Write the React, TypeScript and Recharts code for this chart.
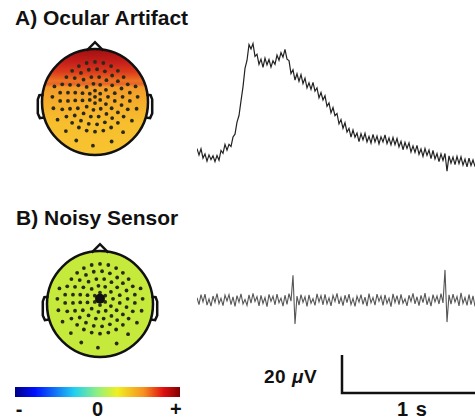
import React from "react";
import {
  LineChart,
  Line,
  ScatterChart,
  Scatter,
  BarChart,
  Bar,
  XAxis,
  YAxis,
} from "recharts";

// ocular artifact trace, microvolts, one sample every ~15 ms
const OCULAR_TRACE = [
  3.4, 0.0, 3.3, -1.6, 0.6, -3.2, 0.1, -2.4, -0.4, -3.5, -0.2, -2.7, 2.4, 0.9, 5.6, 2.6, 5.6, 4.5, 9.5, 11,
  17.3, 20.8, 28.5, 35.9, 45.6, 49.8, 58.1, 55.9, 58.7, 51.9, 53.1, 47.8, 50.5, 46.2, 51, 47.5, 50.3, 46.3, 49.6, 47.8,
  52.6, 49.9, 53.9, 51.5, 55.6, 50.5, 49.7, 42.9, 44.9, 39.5, 42.8, 38.8, 42.3, 37.6, 40.5, 35.3, 38, 34.6, 38.3, 33.6,
  35.4, 30.1, 32.9, 29, 31.2, 25.6, 27.4, 22.2, 25, 20.7, 21.9, 16.4, 18.7, 14.1, 17, 12.1, 14, 9.4, 13.2, 9.4,
  11.6, 7.1, 11.3, 8, 11.4, 6.9, 9.8, 6.3, 10.9, 6.9, 10, 5.9, 9.6, 6.9, 10.6, 6, 9, 5.4, 9.2, 5.5,
  8.7, 4.3, 7.2, 2.8, 6.7, 3.5, 6.4, 1.6, 4.8, 1.4, 5.1, 0.4, 3.2, -0.7, 3.4, -0.2, 2.6, -1.9, 2.4, -2,
  0.8, -3.5, 0.6, -2.8, 0.8, -8.5, -0.4, -4.3, -1.1, -5, -0.7, -4.5, -0.9, -5.3, -2.1, -6.2, -1.6, -5.5, -2.6, -6.1,
];

// noisy sensor trace, microvolts
const NOISY_TRACE = [
  1.2, -2.4, 2.8, -1.0, 3.1, -2.7, 0.6, -3.2, 2.1, -1.3, 3.4, -2.0, 0.9, -2.9, 2.6, -0.5, 2.8, -2.4, 1.6, -3.3,
  2.3, -1.1, 3.2, -2.1, 0.3, -2.8, 2.7, -1.6, 3.5, -0.8, 1.8, -3.1, 2.4, -1.8, 1.3, -3.5, 3.0, -0.7, 2.0, -2.5,
  3.1, -1.4, 1.0, -3.2, 2.5, -2.3, 3.4, -0.6, 13.0, -12.6, 2.1, -2.7, 2.8, -1.3, 1.7, -3.4, 2.7, -1.7, 0.7, -2.8,
  3.2, -1.0, 2.3, -2.5, 3.0, -2.0, 1.1, -3.1, 2.4, -0.8, 3.5, -2.1, 1.4, -2.9, 2.5, -1.4, 3.1, -2.4, 0.8, -3.4,
  2.0, -1.1, 2.8, -2.3, 1.5, -3.2, 3.4, -1.5, 1.3, -2.7, 3.1, -0.7, 2.1, -2.8, 2.7, -1.8, 1.0, -3.5, 3.2, -1.3,
  2.3, -2.4, 3.0, -1.7, 0.6, -3.1, 2.5, -0.8, 3.5, -2.0, 1.7, -2.9, 2.4, -1.4, 3.6, -2.5, 1.1, -3.2, 2.8, -1.0,
  2.1, -2.1, 3.4, -1.5, 15.8, -11.6, 2.7, -2.2, 3.1, -1.1, 1.8, -3.1, 3.8, -1.8, 1.3, -2.8, 2.9, -2.4, 2.2, -3.4,
];

// sensor positions on the head (head radius ~1, nose up)
const ELECTRODES: [number, number][] = [
  [0, 0.1],
  [0, 0.22], [-0.1, 0.16], [-0.1, 0.04], [0, -0.02], [0.1, 0.04], [0.1, 0.16],
  [0.25, 0.1], [0.21, 0.235], [0.1, 0.33], [-0.03, 0.35], [-0.16, 0.29], [-0.24, 0.17],
  [-0.24, 0.03], [-0.16, -0.09], [-0.03, -0.15], [0.11, -0.13], [0.21, -0.04],
  [0.38, 0.17], [0.33, 0.32], [0.22, 0.42], [0.08, 0.48], [-0.07, 0.48], [-0.22, 0.43],
  [-0.32, 0.32], [-0.38, 0.18], [-0.38, 0.03], [-0.33, -0.12], [-0.22, -0.22], [-0.08, -0.28],
  [0.07, -0.28], [0.22, -0.23], [0.32, -0.12], [0.38, 0.02],
  [0.53, 0.1], [0.51, 0.26], [0.44, 0.4], [0.33, 0.51], [0.19, 0.59], [0.04, 0.63], [-0.12, 0.62],
  [-0.27, 0.56], [-0.39, 0.46], [-0.48, 0.33], [-0.52, 0.18], [-0.52, 0.02], [-0.48, -0.13],
  [-0.39, -0.26], [-0.27, -0.36], [-0.12, -0.42], [0.04, -0.43], [0.19, -0.39], [0.33, -0.31],
  [0.44, -0.2], [0.51, -0.06],
  [0.67, 0.18], [0.63, 0.34], [0.55, 0.48], [0.44, 0.6], [0.31, 0.69], [0.16, 0.75], [0, 0.77],
  [-0.16, 0.75], [-0.31, 0.69], [-0.44, 0.6], [-0.55, 0.48], [-0.63, 0.34], [-0.67, 0.18],
  [-0.67, 0.02], [-0.63, -0.14], [-0.55, -0.28], [-0.44, -0.4], [-0.31, -0.49], [-0.16, -0.55],
  [0, -0.57], [0.16, -0.55], [0.31, -0.49], [0.44, -0.4], [0.55, -0.28], [0.63, -0.14], [0.67, 0.02],
  [-0.78, 0.3], [-0.82, 0.1], [-0.8, -0.12], [-0.72, -0.34], [-0.56, -0.56], [-0.36, -0.74],
  [-0.04, -0.84], [0.32, -0.76], [0.54, -0.58], [0.71, -0.36], [0.8, -0.13], [0.82, 0.1], [0.78, 0.3],
];
const NOSE: [number, number][] = [[-0.16, 0.99], [0, 1.15], [0.16, 0.99]];
const LEFT_EAR: [number, number][] = [[-0.99, 0.14], [-1.07, 0.13], [-1.1, 0.05], [-1.1, -0.22], [-1.06, -0.31], [-0.98, -0.3]];
const RIGHT_EAR: [number, number][] = LEFT_EAR.map(([x, y]) => [-x, y]);

const OCULAR_STOPS: [number, string][] = [
  [0, "#a01010"], [0.12, "#c41e1a"], [0.22, "#dc3c1c"], [0.3, "#ec7420"], [0.33, "#e8622a"],
  [0.36, "#f29a28"], [0.5, "#f5ad2b"], [0.7, "#f7be2e"], [1, "#f8c430"],
];
const NOISY_STOPS: [number, string][] = [[0, "#c6ea3c"], [1, "#c6ea3c"]];
const JET_STOPS: [number, string][] = [
  [0, "#000088"], [0.12, "#0010ff"], [0.36, "#20d0f0"], [0.5, "#90f080"], [0.62, "#f0f020"],
  [0.78, "#f89020"], [0.9, "#e01010"], [1, "#800000"],
];
const BAR_TICKS = [-0.95, 0, 0.95];
const BAR_LABELS: Record<string, string> = { "-0.95": "-", "0": "0", "0.95": "+" };
const SCALE_BAR = [{ t: 0, v: 20 }, { t: 0, v: 0 }, { t: 1, v: 0 }];

const FONT = "'Liberation Sans', Arial, sans-serif";
const HEAD_R = 53;

const toPts = (arr: [number, number][]) => arr.map(([x, y]) => ({ x, y }));
const none = () => <g />;

function Topomap({ id, left, top, stops, marked }: { id: string; left: number; top: number; stops: [number, string][]; marked?: boolean }) {
  const head = (p: any) => (
    <circle cx={p.cx} cy={p.cy} r={HEAD_R} fill={`url(#${id})`} stroke="#111" strokeWidth={2.5} />
  );
  const dot = (p: any) => <circle cx={p.cx} cy={p.cy} r={1.9} fill="#2a2a1a" />;
  const blob = (p: any) => <circle cx={p.cx} cy={p.cy} r={5} fill="#111" />;
  const outline = { stroke: "#111", strokeWidth: 2.5, fill: "none" };
  return (
    <div style={{ position: "absolute", left, top }}>
      <ScatterChart width={130} height={130} margin={{ top: 0, right: 0, bottom: 0, left: 0 }}>
        <defs>
          <linearGradient id={id} x1="0" y1="0" x2="0" y2="1">
            {stops.map(([o, c]) => (
              <stop key={o} offset={o} stopColor={c} />
            ))}
          </linearGradient>
        </defs>
        <XAxis type="number" dataKey="x" domain={[-1.25, 1.25]} hide />
        <YAxis type="number" dataKey="y" domain={[-1.25, 1.25]} hide />
        <Scatter data={[{ x: 0, y: 0 }]} shape={head} isAnimationActive={false} />
        <Scatter data={toPts(NOSE)} line={outline} shape={none} isAnimationActive={false} />
        <Scatter data={toPts(LEFT_EAR)} line={outline} shape={none} isAnimationActive={false} />
        <Scatter data={toPts(RIGHT_EAR)} line={outline} shape={none} isAnimationActive={false} />
        <Scatter data={toPts(ELECTRODES)} shape={dot} isAnimationActive={false} />
        {marked && <Scatter data={toPts(ELECTRODES.slice(0, 1))} shape={blob} isAnimationActive={false} />}
      </ScatterChart>
    </div>
  );
}

function Trace({ values, left, top, height, domain, color, width }: { values: number[]; left: number; top: number; height: number; domain: [number, number]; color: string; width: number }) {
  const data = values.map((v, i) => ({ i, v }));
  return (
    <div style={{ position: "absolute", left, top }}>
      <LineChart width={278} height={height} data={data} margin={{ top: 0, right: 0, bottom: 0, left: 0 }}>
        <XAxis type="number" dataKey="i" domain={[0, values.length - 1]} hide />
        <YAxis type="number" domain={domain} hide allowDataOverflow />
        <Line type="linear" dataKey="v" stroke={color} strokeWidth={width} dot={false} isAnimationActive={false} />
      </LineChart>
    </div>
  );
}

const label = (text: React.ReactNode, left: number, top: number, size: number, extra: React.CSSProperties = {}) => (
  <div
    style={{
      position: "absolute",
      left,
      top,
      fontFamily: FONT,
      fontWeight: "bold",
      fontSize: size,
      lineHeight: 1,
      color: "#111",
      whiteSpace: "nowrap",
      ...extra,
    }}
  >
    {text}
  </div>
);

export default function App() {
  return (
    <div style={{ position: "absolute", left: 0, top: 0, width: 475, height: 419, background: "#fff", overflow: "hidden" }}>
      {label("A) Ocular Artifact", 15, 7, 21)}
      {label("B) Noisy Sensor", 16, 207, 21)}

      <Topomap id="headA" left={30} top={37} stops={OCULAR_STOPS} />
      <Topomap id="headB" left={35} top={239} stops={NOISY_STOPS} marked />

      <Trace values={OCULAR_TRACE} left={197} top={35} height={140} domain={[-10.5, 63.2]} color="#222" width={1.2} />
      <Trace values={NOISY_TRACE} left={197} top={260} height={80} domain={[-21, 21]} color="#555" width={1.1} />

      <div style={{ position: "absolute", left: 5, top: 387 }}>
        <BarChart
          width={185}
          height={32}
          layout="vertical"
          data={[{ name: "bar", range: [-1, 1] }]}
          margin={{ top: 0, right: 10, bottom: 0, left: 10 }}
          barCategoryGap={0}
        >
          <defs>
            <linearGradient id="jet" x1="0" y1="0" x2="1" y2="0">
              {JET_STOPS.map(([o, c]) => (
                <stop key={o} offset={o} stopColor={c} />
              ))}
            </linearGradient>
          </defs>
          <XAxis
            type="number"
            domain={[-1, 1]}
            ticks={BAR_TICKS}
            tickFormatter={(v) => BAR_LABELS[String(v)] ?? ""}
            axisLine={false}
            tickLine={false}
            tickSize={0}
            tickMargin={5}
            height={22}
            interval={0}
            tick={{ fill: "#111", fontSize: 20, fontWeight: "bold", fontFamily: FONT }}
          />
          <YAxis type="category" dataKey="name" hide />
          <Bar dataKey="range" fill="url(#jet)" isAnimationActive={false} />
        </BarChart>
      </div>

      <div style={{ position: "absolute", left: 340, top: 353 }}>
        <LineChart width={137} height={42} data={SCALE_BAR} margin={{ top: 2, right: 2, bottom: 2, left: 2 }}>
          <XAxis type="number" dataKey="t" domain={[0, 1]} hide />
          <YAxis type="number" domain={[0, 20]} hide />
          <Line type="linear" dataKey="v" stroke="#111" strokeWidth={2.5} dot={false} isAnimationActive={false} />
        </LineChart>
      </div>
      {label(
        <>
          20 <i>{"\u03bc"}</i>V
        </>,
        264,
        367,
        19,
        { letterSpacing: 0.5 }
      )}
      {label("1 s", 397, 399, 20, { letterSpacing: 1 })}
    </div>
  );
}
